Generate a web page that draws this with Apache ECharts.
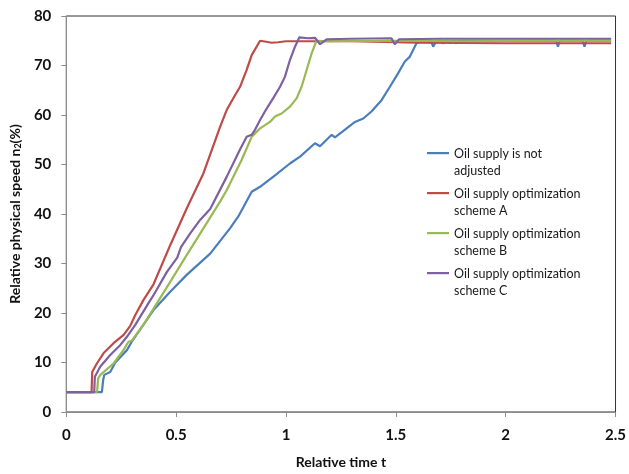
<!DOCTYPE html>
<html>
<head>
<meta charset="utf-8">
<script src="https://cdn.jsdelivr.net/npm/echarts@6/dist/echarts.min.js"></script>
<style>
html, body { margin: 0; padding: 0; background: #fff; }
#chart { width: 629px; height: 474px; }
</style>
</head>
<body>
<div id="chart"></div>
<script>
// series names and the wrapped legend labels
var seriesNames = ['notAdjusted', 'schemeA', 'schemeB', 'schemeC'];
var legendLabels = [
	'Oil supply is not\nadjusted',
	'Oil supply optimization\nscheme A',
	'Oil supply optimization\nscheme B',
	'Oil supply optimization\nscheme C'
];
var lineColors = ['#4A7EBB', '#BE4B48', '#98B954', '#7D60A0'];

// oil supply is not adjusted
var tBlue = [0, 0.162, 0.168, 0.173, 0.2, 0.223, 0.276, 0.298, 0.397, 0.473, 0.548, 0.655, 0.745, 0.783, 0.844, 0.882, 0.95, 1.018, 1.064, 1.132, 1.155, 1.208, 1.223, 1.276, 1.314, 1.352, 1.389, 1.435, 1.473, 1.51, 1.541, 1.564, 1.594, 1.62, 1.66, 1.67, 1.685, 1.71, 1.714, 1.72, 1.74, 1.745, 1.75, 1.77, 1.776, 1.78, 1.9, 2.23, 2.238, 2.246, 2.35, 2.359, 2.367, 2.48];
var nBlue = [4, 4, 6.5, 7.5, 8.1, 10, 12.5, 14.2, 20.6, 24.3, 27.7, 32, 37.1, 39.5, 44.5, 45.5, 47.8, 50.2, 51.6, 54.3, 53.7, 56, 55.5, 57.3, 58.6, 59.3, 60.7, 63, 65.7, 68.4, 70.8, 71.8, 74.5, 75, 75, 73.8, 75, 75, 74.4, 75, 75, 74.4, 75, 75, 74.4, 75, 75, 75, 73.8, 75, 75, 73.8, 75, 75];

// scheme A
var tRed = [0, 0.115, 0.118, 0.139, 0.17, 0.215, 0.261, 0.291, 0.314, 0.351, 0.397, 0.473, 0.548, 0.624, 0.7, 0.73, 0.768, 0.791, 0.821, 0.844, 0.882, 0.91, 0.935, 0.965, 1.0, 1.3, 1.6, 2.0, 2.48];
var nRed = [4, 4, 8.1, 9.8, 11.9, 13.9, 15.6, 17.4, 19.6, 22.6, 25.8, 33.7, 41.1, 48.2, 57.6, 61, 64, 65.7, 69.1, 72.1, 75, 74.8, 74.6, 74.7, 74.9, 74.9, 74.6, 74.5, 74.5];

// scheme B
var tGreen = [0, 0.14, 0.145, 0.155, 0.215, 0.26, 0.283, 0.298, 0.351, 0.473, 0.548, 0.624, 0.7, 0.73, 0.798, 0.844, 0.882, 0.927, 0.95, 0.98, 1.018, 1.049, 1.071, 1.094, 1.117, 1.139, 1.2, 1.5, 1.8, 2.1, 2.48];
var nGreen = [4, 4, 6.8, 7.5, 9.8, 12.5, 14.2, 14.4, 17.6, 26.3, 31.7, 37.1, 42.5, 44.8, 50.9, 55.6, 57.3, 58.6, 59.7, 60.3, 61.7, 63.4, 65.7, 69.1, 72.5, 75.0, 74.9, 75.0, 74.9, 75.0, 75.0];

// scheme C
var tPurple = [0, 0.127, 0.13, 0.155, 0.2, 0.245, 0.276, 0.314, 0.374, 0.397, 0.458, 0.505, 0.522, 0.564, 0.609, 0.655, 0.73, 0.79, 0.821, 0.844, 0.859, 0.882, 0.912, 0.942, 0.973, 0.995, 1.018, 1.041, 1.061, 1.1, 1.132, 1.155, 1.185, 1.3, 1.48, 1.495, 1.515, 1.7, 2.0, 2.48];
var nPurple = [4, 4, 7.1, 9.2, 11.5, 13.5, 15.2, 17.6, 22.0, 23.6, 28.3, 31.2, 33.3, 36.1, 38.8, 41.0, 47.5, 53, 55.6, 56, 57, 59, 61.3, 63.4, 65.7, 67.7, 71.1, 73.8, 75.7, 75.5, 75.6, 74.3, 75.3, 75.4, 75.5, 74.3, 75.3, 75.4, 75.4, 75.4];

function pairs(t, n) {
	return t.map(function (v, i) { return [v, n[i]]; });
}

var seriesData = [pairs(tBlue, nBlue), pairs(tRed, nRed), pairs(tGreen, nGreen), pairs(tPurple, nPurple)];

var myChart = echarts.init(document.getElementById('chart'));
var font = 'Lato, "Liberation Sans", sans-serif';

option = {
	animation : false,
	color : lineColors,
	grid : {
		left : 66,
		right : 13,
		top : 16,
		bottom : 62,
		show : true,
		borderColor : '#333333',
		borderWidth : 1,
		backgroundColor : 'transparent'
	},
	legend : {
		orient : 'vertical',
		left : 427,
		top : 145,
		padding : 0,
		itemWidth : 22,
		itemHeight : 34,
		itemGap : 6,
		symbolKeepAspect : false,
		icon : 'path://M0,0M0,7H22V9.2H0ZM22,34',
		formatter : function (name) {
			return legendLabels[seriesNames.indexOf(name)];
		},
		textStyle : {
			fontFamily : font,
			fontSize : 12.5,
			lineHeight : 17,
			color : '#1a1a1a'
		},
		data : seriesNames
	},
	xAxis : {
		type : 'value',
		min : 0,
		max : 2.5,
		interval : 0.5,
		name : 'Relative time t',
		nameLocation : 'middle',
		nameGap : 43,
		nameTextStyle : {
			fontFamily : font,
			fontSize : 14,
			fontWeight : 'bold',
			color : '#111'
		},
		axisLine : { lineStyle : { color : '#8c8c8c', width : 1 } },
		axisTick : { show : true, inside : false, length : 5, lineStyle : { color : '#8c8c8c' } },
		axisLabel : {
			margin : 16,
			fontFamily : font,
			fontSize : 15,
			fontWeight : 'bold',
			color : '#111'
		},
		splitLine : { show : false }
	},
	yAxis : {
		type : 'value',
		min : 0,
		max : 80,
		interval : 10,
		name : '{a|Relative physical speed n}{s|2}{a|(%)}',
		nameLocation : 'middle',
		nameGap : 41,
		nameTextStyle : {
			rich : {
				a : { fontFamily : font, fontSize : 14, fontWeight : 'bold', color : '#111' },
				s : { fontFamily : font, fontSize : 9, fontWeight : 'bold', color : '#111', verticalAlign : 'bottom', padding : [7, 0, 0, 0] }
			}
		},
		axisLine : { show : true, lineStyle : { color : '#8c8c8c', width : 1 } },
		axisTick : { show : true, inside : false, length : 5, lineStyle : { color : '#8c8c8c' } },
		axisLabel : {
			margin : 15,
			fontFamily : font,
			fontSize : 15,
			fontWeight : 'bold',
			color : '#111'
		},
		splitLine : { show : false }
	},
	series : seriesNames.map(function (name, i) {
		return {
			name : name,
			type : 'line',
			data : seriesData[i],
			showSymbol : false,
			symbol : 'none',
			lineStyle : { width : 2.2, color : lineColors[i] },
			itemStyle : { color : lineColors[i] }
		};
	})
};

myChart.setOption(option);
</script>
</body>
</html>
